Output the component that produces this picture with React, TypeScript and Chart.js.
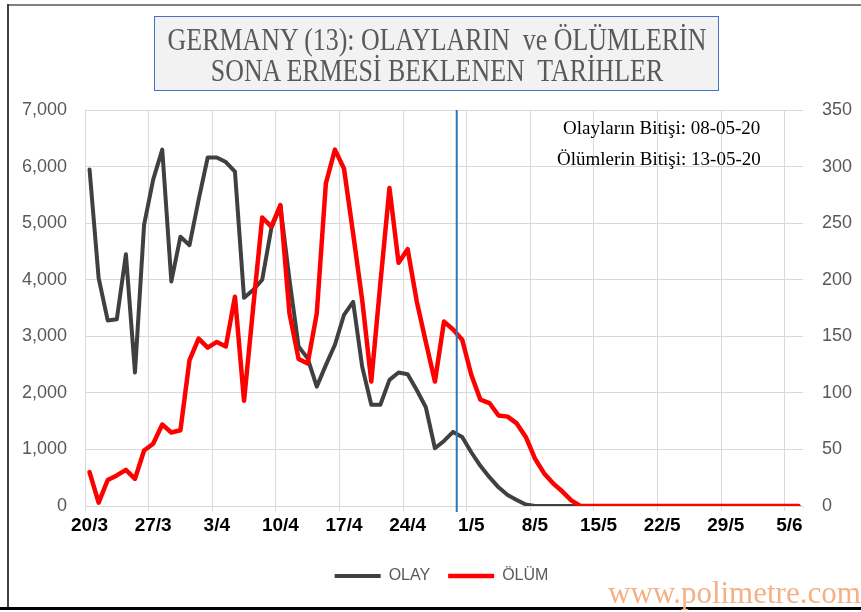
import React, { useEffect, useRef } from "react";
import { Chart, registerables } from "chart.js";

Chart.register(...registerables);

// ---- categories (one per day) ----
const dates: string[] = [
  "20/3", "21/3", "22/3", "23/3", "24/3", "25/3", "26/3", "27/3", "28/3", "29/3", "30/3", "31/3",
  "1/4", "2/4", "3/4", "4/4", "5/4", "6/4", "7/4", "8/4", "9/4", "10/4",
  "11/4", "12/4", "13/4", "14/4", "15/4", "16/4", "17/4", "18/4", "19/4", "20/4",
  "21/4", "22/4", "23/4", "24/4", "25/4", "26/4", "27/4", "28/4", "29/4", "30/4",
  "1/5", "2/5", "3/5", "4/5", "5/5", "6/5", "7/5", "8/5", "9/5", "10/5",
  "11/5", "12/5", "13/5", "14/5", "15/5", "16/5", "17/5", "18/5", "19/5", "20/5",
  "21/5", "22/5", "23/5", "24/5", "25/5", "26/5", "27/5", "28/5", "29/5", "30/5", "31/5",
  "1/6", "2/6", "3/6", "4/6", "5/6", "6/6",
];

// ---- series: daily cases (left axis) ----
const olay: number[] = [
  5950, 4030, 3280, 3300, 4450, 2360, 4970, 5770, 6300, 3970,
  4760, 4610, 5410, 6160, 6160, 6080, 5910, 3680, 3820, 4000,
  4910, 5300, 4000, 2820, 2610, 2110, 2490, 2850, 3380, 3610,
  2460, 1790, 1790, 2230, 2360, 2330, 2050, 1745, 1020, 1150,
  1310, 1220, 950, 710, 510, 330, 194, 106, 25, 0,
  0, 0, 0, 0, 0, 0, 0, 0, 0, 0,
  0, 0, 0, 0, 0, 0, 0, 0, 0, 0,
  0, 0, 0, 0, 0, 0, 0, 0, 0,
];

// ---- series: daily deaths (right axis) ----
const olum: number[] = [
  30, 3, 23, 27, 32, 24, 49, 55, 72, 65,
  67, 129, 148, 140, 145, 141, 185, 93, 175, 255,
  247, 266, 170, 130, 126, 170, 285, 315, 298, 241,
  182, 110, 197, 281, 215, 227, 181, 145, 110, 163,
  156, 147, 116, 94, 91, 80, 79, 73, 61, 42,
  29, 20, 13, 5, 0, 0, 0, 0, 0, 0,
  0, 0, 0, 0, 0, 0, 0, 0, 0, 0,
  0, 0, 0, 0, 0, 0, 0, 0, 0,
];

const seriesNames = ["OLAY", "ÖLÜM"];
const leftAxis = { min: 0, max: 7000, step: 1000 };
const rightAxis = { min: 0, max: 350, step: 50 };
const labelEvery = 7;
const markerDay = 40.4; // "today" marker (fractional day index)

const titleLines = ["GERMANY (13): OLAYLARIN  ve ÖLÜMLERİN", "SONA ERMESİ BEKLENEN  TARİHLER"];
const notes = ["Olayların Bitişi: 08-05-20", "Ölümlerin Bitişi: 13-05-20"];
const watermark = "www.polimetre.com";

const markerPlugin = {
  id: "todayMarker",
  afterDatasetsDraw(chart: any) {
    const xs = chart.scales.x;
    const area = chart.chartArea;
    const x = xs.getPixelForValue(markerDay);
    const ctx = chart.ctx;
    ctx.save();
    ctx.strokeStyle = "#2e75b6";
    ctx.lineWidth = 2;
    ctx.beginPath();
    ctx.moveTo(x, area.top);
    ctx.lineTo(x, area.bottom + 6);
    ctx.stroke();
    ctx.restore();
  },
};

export default function App() {
  const canvasRef = useRef<HTMLCanvasElement | null>(null);

  useEffect(() => {
    const canvas = canvasRef.current;
    if (!canvas) return;
    const chart = new Chart(canvas, {
      type: "line",
      data: {
        labels: dates,
        datasets: [
          {
            label: seriesNames[0],
            data: olay,
            borderColor: "#404040",
            backgroundColor: "#404040",
            borderWidth: 4,
            pointRadius: 0,
            pointStyle: "line",
            tension: 0,
            borderCapStyle: "round",
            borderJoinStyle: "round",
            yAxisID: "y",
            order: 2,
          },
          {
            label: seriesNames[1],
            data: olum,
            borderColor: "#ff0000",
            backgroundColor: "#ff0000",
            borderWidth: 4.5,
            pointRadius: 0,
            pointStyle: "line",
            tension: 0,
            borderCapStyle: "round",
            borderJoinStyle: "round",
            yAxisID: "y1",
            order: 1,
          },
        ],
      },
      options: {
        responsive: false,
        animation: false,
        devicePixelRatio: 1,
        layout: { padding: { top: 110, left: 22, right: 0, bottom: 18 } },
        plugins: {
          title: { display: false },
          tooltip: { enabled: false },
          legend: {
            position: "bottom",
            labels: {
              usePointStyle: true,
              pointStyle: "line",
              pointStyleWidth: 46,
              padding: 18,
              color: "#595959",
              font: { family: "'Liberation Sans', Arial, sans-serif", size: 16 },
              sort: (a: any, b: any) => a.datasetIndex - b.datasetIndex,
            },
          },
        },
        scales: {
          x: {
            type: "category",
            offset: true,
            grid: {
              offset: true,
              tickLength: 5,
              drawTicks: true,
              color: (ctx: any) =>
                ctx.type === "tick" && ctx.index % labelEvery === 0 ? "#d9d9d9" : "rgba(0,0,0,0)",
            },
            border: { color: "#d9d9d9", width: 1 },
            ticks: {
              autoSkip: false,
              maxRotation: 0,
              minRotation: 0,
              padding: 3,
              color: "#000000",
              font: { family: "'Liberation Sans', Arial, sans-serif", size: 19, weight: "bold" },
              callback: (_v: any, i: number) => (i % labelEvery === 0 ? dates[i] : ""),
            },
            afterFit: (s: any) => {
              s.height = 44;
            },
          },
          y: {
            position: "left",
            min: leftAxis.min,
            max: leftAxis.max,
            ticks: {
              stepSize: leftAxis.step,
              padding: 18,
              color: "#595959",
              font: { family: "'Liberation Sans', Arial, sans-serif", size: 18 },
            },
            grid: { color: "#d9d9d9", drawTicks: false },
            border: { display: false },
            afterFit: (s: any) => {
              s.width = 63;
            },
          },
          y1: {
            position: "right",
            min: rightAxis.min,
            max: rightAxis.max,
            ticks: {
              stepSize: rightAxis.step,
              padding: 19,
              color: "#595959",
              font: { family: "'Liberation Sans', Arial, sans-serif", size: 18 },
            },
            grid: { display: false, drawTicks: false },
            border: { display: false },
            afterFit: (s: any) => {
              s.width = 58;
            },
          },
        },
      } as any,
      plugins: [markerPlugin],
    });
    return () => chart.destroy();
  }, []);

  const serif = "'Liberation Serif', 'Times New Roman', serif";

  return (
    <div
      style={{
        position: "fixed",
        left: 0,
        top: 0,
        width: 861,
        height: 612,
        background: "#ffffff",
        overflow: "hidden",
      }}
    >
      <canvas ref={canvasRef} width={861} height={612} style={{ position: "absolute", left: 0, top: 0 }} />
      {/* chart area frame */}
      <div style={{ position: "absolute", left: 7, top: 4, width: 854, height: 2, background: "#808080" }} />
      <div style={{ position: "absolute", left: 7, top: 4, width: 2, height: 606, background: "#404040" }} />
      <div style={{ position: "absolute", left: 0, top: 607, width: 861, height: 3, background: "#000000" }} />
      {/* title box */}
      <div
        style={{
          position: "absolute",
          left: 154,
          top: 16,
          width: 563,
          height: 73,
          background: "#f2f2f2",
          border: "1.5px solid #4472c4",
        }}
      />
      {titleLines.map((t, i) => (
        <div
          key={i}
          style={{
            position: "absolute",
            left: 37,
            width: 800,
            top: 23 + i * 31,
            fontFamily: serif,
            fontSize: 32,
            lineHeight: "32px",
            color: "#595959",
            textAlign: "center",
            whiteSpace: "pre",
            transform: "scaleX(0.81)",
            transformOrigin: "center",
          }}
        >
          {t}
        </div>
      ))}
      {notes.map((t, i) => (
        <div
          key={i}
          style={{
            position: "absolute",
            left: i === 0 ? 563 : 557,
            top: 118 + i * 31,
            fontFamily: serif,
            fontSize: 19,
            lineHeight: "19px",
            color: "#000000",
            whiteSpace: "pre",
          }}
        >
          {t}
        </div>
      ))}
      <div
        style={{
          position: "absolute",
          left: 608,
          top: 577,
          fontFamily: serif,
          fontSize: 31,
          lineHeight: "31px",
          color: "#f4b183",
          whiteSpace: "pre",
        }}
      >
        {watermark}
      </div>
    </div>
  );
}
